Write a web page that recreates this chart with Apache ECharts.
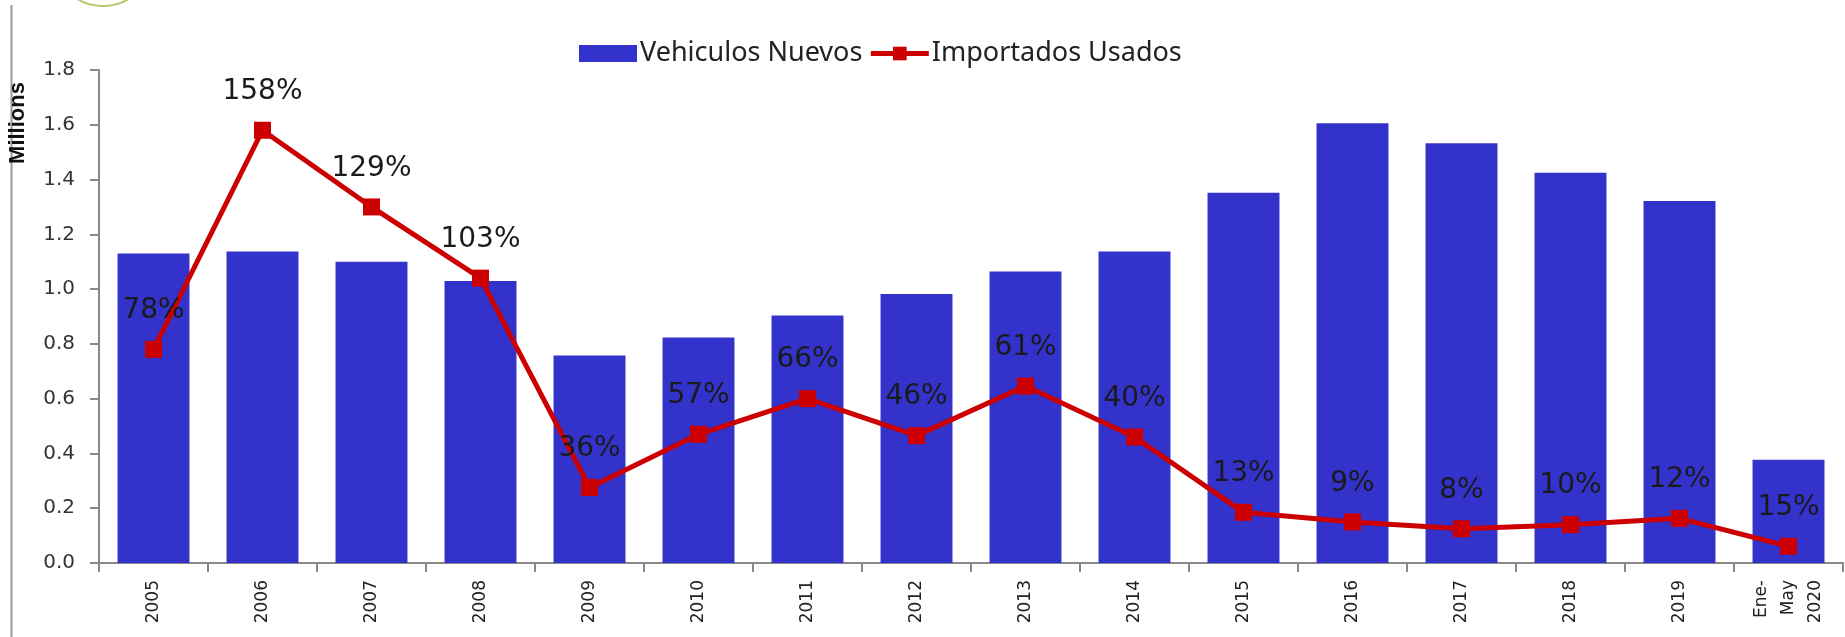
<!DOCTYPE html>
<html lang="es">
<head>
    <meta charset="UTF-8">
    <title>Vehiculos Nuevos vs Importados Usados</title>
    <style>
        *{ margin: 0; }
        html,body{ height: 100%; background: #fff; }
        #chart{ width: 1845px; height: 637px; }
    </style>
    <script src="https://cdn.jsdelivr.net/npm/echarts@6/dist/echarts.min.js"></script>
</head>
<body>
<div id="chart"></div>
<script>
    // categorias del eje x
    const years = ['2005','2006','2007','2008','2009','2010','2011','2012','2013','2014',
        '2015','2016','2017','2018','2019','Ene-\nMay\n2020'];
    // ventas de vehiculos nuevos (millones)
    const nuevos = [1.13,1.137,1.10,1.03,0.758,0.823,0.904,0.982,1.064,1.137,
        1.352,1.606,1.533,1.425,1.322,0.377];
    // importados usados (millones)
    const usados = [0.78,1.58,1.30,1.04,0.276,0.47,0.60,0.465,0.646,0.46,
        0.185,0.15,0.125,0.14,0.163,0.061];
    // etiquetas de porcentaje sobre la linea
    const pctLabels = ['78%','158%','129%','103%','36%','57%','66%','46%','61%','40%',
        '13%','9%','8%','10%','12%','15%'];

    const myChart = echarts.init(document.getElementById('chart'));
    myChart.setOption({
        animation: false,
        grid: { left: 99, right: 2, top: 70, bottom: 74 },
        legend: {
            left: 574,
            top: 35,
            itemWidth: 58,
            itemHeight: 17,
            itemGap: 6,
            lineStyle: { width: 5 },
            textStyle: { fontFamily: 'Noto Sans', fontSize: 27, color: '#222', padding: [0, 0, 0, -2] },
            data: [
                { name: 'Vehiculos Nuevos', icon: 'rect' },
                'Importados Usados'
            ]
        },
        graphic: [
            { type: 'line', shape: { x1: 11.5, y1: 5, x2: 11.5, y2: 637 },
              style: { stroke: '#999', lineWidth: 2 } },
            { type: 'ellipse', shape: { cx: 103, cy: -28, rx: 42, ry: 34 },
              style: { fill: 'none', stroke: '#b5c96a', lineWidth: 2 } },
            { type: 'text', x: 18, y: 123, rotation: Math.PI / 2,
              style: { text: 'Millions', fontFamily: 'Liberation Sans', fontWeight: 'bold',
                       fontSize: 22, fill: '#111', align: 'center', verticalAlign: 'middle' } }
        ],
        xAxis: {
            type: 'category',
            data: years,
            axisLine: { lineStyle: { color: '#888', width: 2 } },
            axisTick: { show: true, length: 9, lineStyle: { color: '#888', width: 2 } },
            axisLabel: {
                rotate: 90,
                margin: 17,
                fontFamily: 'DejaVu Sans',
                fontSize: 17,
                lineHeight: 27,
                color: '#222'
            }
        },
        yAxis: {
            type: 'value',
            min: 0,
            max: 1.8,
            interval: 0.2,
            splitLine: { show: false },
            axisLine: { show: true, lineStyle: { color: '#888', width: 2 } },
            axisTick: { show: true, length: 9, lineStyle: { color: '#888', width: 2 } },
            axisLabel: {
                margin: 24,
                fontFamily: 'DejaVu Sans',
                fontSize: 20,
                color: '#333',
                formatter: function (v) { return v.toFixed(1); }
            }
        },
        series: [
            {
                name: 'Vehiculos Nuevos',
                type: 'bar',
                data: nuevos,
                barCategoryGap: '34%',
                itemStyle: { color: '#3333CC' }
            },
            {
                name: 'Importados Usados',
                type: 'line',
                data: usados,
                symbol: 'rect',
                symbolSize: 17,
                z: 5,
                lineStyle: { color: '#CC0000', width: 5 },
                itemStyle: { color: '#CC0000' },
                label: {
                    show: true,
                    position: 'top',
                    distance: 16,
                    fontFamily: 'DejaVu Sans',
                    fontSize: 28,
                    color: '#1a1a1a',
                    formatter: function (p) { return pctLabels[p.dataIndex]; }
                }
            }
        ]
    });
</script>
</body>
</html>
